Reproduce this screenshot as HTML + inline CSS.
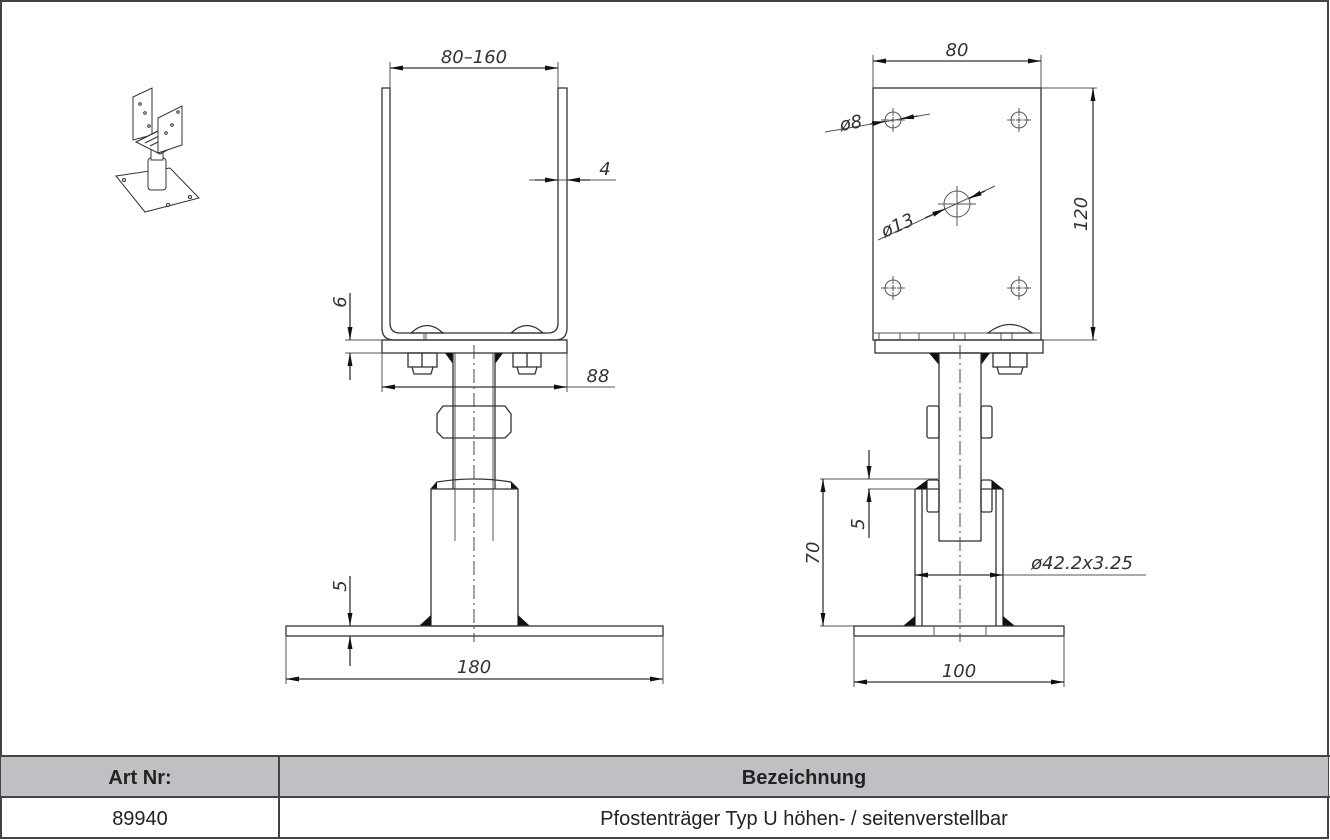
<!DOCTYPE html>
<html><head><meta charset="utf-8"><style>
html,body{margin:0;padding:0;background:#fff}
svg{display:block}
.l{stroke:#333;stroke-width:1.3;fill:none}
.t{stroke:#555;stroke-width:1;fill:none}
.c{stroke:#444;stroke-width:1;fill:none;stroke-dasharray:14 4 2 4}
.d{font-family:"DejaVu Sans","Liberation Sans",sans-serif;font-style:italic;font-size:18px;fill:#333}
.k{fill:#111}
</style></head><body>
<svg width="1330" height="840" viewBox="0 0 1330 840" xmlns="http://www.w3.org/2000/svg">
<defs>
<marker id="a" markerWidth="13" markerHeight="7" refX="13" refY="3.5" orient="auto" markerUnits="userSpaceOnUse"><path d="M0,1 L13,3.5 L0,6Z" fill="#111"/></marker>
<marker id="b" markerWidth="13" markerHeight="7" refX="0" refY="3.5" orient="auto" markerUnits="userSpaceOnUse"><path d="M13,1 L0,3.5 L13,6Z" fill="#111"/></marker>
</defs>
<rect x="1" y="1" width="1327" height="837" fill="none" stroke="#444" stroke-width="2"/>

<!-- thumbnail -->
<g stroke="#333" stroke-width="1" fill="#fff">
<polygon points="116,176 170,168 199,198 145,212"/>
<circle cx="124" cy="180" r="1.5"/><circle cx="190" cy="197" r="1.5"/><circle cx="168" cy="205" r="1.5"/>
<rect x="148" y="158" width="18" height="32" rx="3"/>
<rect x="151" y="148" width="12" height="12"/>
<polygon points="133,97 152,88 152,135 133,140"/>
<polygon points="136,142 160,130 182,142 160,154"/>
<path d="M140,140 L160,130 M145,143 L165,133 M150,146 L170,136"/>
<polygon points="158,118 182,106 182,145 158,153"/>
<circle cx="140" cy="104" r="1.3"/><circle cx="145" cy="113" r="1.3"/><circle cx="172" cy="125" r="1.3"/><circle cx="178" cy="112" r="1.3"/><circle cx="166" cy="133" r="1.3"/><circle cx="149" cy="126" r="1.3"/>
</g>

<!-- LEFT VIEW -->
<line class="t" x1="390" y1="62" x2="390" y2="88"/><line class="t" x1="558" y1="62" x2="558" y2="88"/>
<line class="l" x1="390" y1="68" x2="558" y2="68" marker-start="url(#b)" marker-end="url(#a)"/>
<text class="d" x="474" y="63" text-anchor="middle">80–160</text>
<path class="l" d="M382,88 V328 Q382,340 394,340 H555 Q567,340 567,328 V88 H558 V323 Q558,333 548,333 H400 Q390,333 390,323 V88 Z"/>
<path class="l" d="M411,333 Q427,318 443,333 Z M511,333 Q527,318 543,333 Z"/>
<line class="t" x1="424" y1="333" x2="424" y2="340"/><line class="t" x1="426" y1="333" x2="426" y2="340"/>
<line class="t" x1="529" y1="180" x2="616" y2="180"/>
<line class="l" x1="535" y1="180" x2="558" y2="180" marker-end="url(#a)"/>
<line class="l" x1="590" y1="180" x2="567" y2="180" marker-end="url(#a)"/>
<text class="d" x="605" y="175" text-anchor="middle">4</text>
<rect class="l" x="382" y="340" width="185" height="13"/>
<line class="t" x1="345" y1="340" x2="382" y2="340"/><line class="t" x1="345" y1="353" x2="382" y2="353"/>
<line class="l" x1="350" y1="293" x2="350" y2="340" marker-end="url(#a)"/>
<line class="l" x1="350" y1="380" x2="350" y2="353" marker-end="url(#a)"/>
<text class="d" transform="translate(346,302) rotate(-90)" text-anchor="middle">6</text>
<g class="l"><rect x="408" y="353" width="29" height="14"/><path d="M412,367 L414,374 H431 L433,367 M422,353 V367"/>
<rect x="513" y="353" width="28" height="14"/><path d="M517,367 L519,374 H535 L537,367 M527,353 V367"/></g>
<polygon class="k" points="445,353 453,353 453,364"/><polygon class="k" points="503,353 495,353 495,364"/>
<line class="l" x1="453" y1="353" x2="453" y2="489"/><line class="l" x1="495" y1="353" x2="495" y2="489"/>
<line class="t" x1="455" y1="353" x2="455" y2="541"/><line class="t" x1="493" y1="353" x2="493" y2="541"/>
<line class="t" x1="382" y1="353" x2="382" y2="392"/><line class="t" x1="567" y1="353" x2="567" y2="392"/>
<line class="l" x1="382" y1="387" x2="567" y2="387" marker-start="url(#b)" marker-end="url(#a)"/>
<line class="t" x1="567" y1="387" x2="615" y2="387"/>
<text class="d" x="598" y="382" text-anchor="middle">88</text>
<path class="l" fill="#fff" d="M443,406 H505 L511,414 V432 L505,438 H443 L437,432 V414 Z"/>
<line class="t" x1="455" y1="406" x2="455" y2="438"/><line class="t" x1="493" y1="406" x2="493" y2="438"/>
<path class="l" d="M431,489 L437,482 Q474,476 511,482 L518,489"/>
<polygon class="k" points="431,489 437,482 437,489"/><polygon class="k" points="518,489 511,482 511,489"/>
<rect class="l" x="431" y="489" width="87" height="137"/>
<line class="t" x1="455" y1="489" x2="455" y2="541"/><line class="t" x1="493" y1="489" x2="493" y2="541"/>
<polygon class="k" points="419,626 431,626 431,615"/><polygon class="k" points="530,626 518,626 518,615"/>
<rect class="l" x="286" y="626" width="377" height="10"/>
<line class="c" x1="474" y1="345" x2="474" y2="642"/>
<line class="l" x1="350" y1="576" x2="350" y2="626" marker-end="url(#a)"/>
<line class="l" x1="350" y1="666" x2="350" y2="636" marker-end="url(#a)"/>
<text class="d" transform="translate(346,586) rotate(-90)" text-anchor="middle">5</text>
<line class="t" x1="286" y1="636" x2="286" y2="684"/><line class="t" x1="663" y1="636" x2="663" y2="684"/>
<line class="l" x1="286" y1="679" x2="663" y2="679" marker-start="url(#b)" marker-end="url(#a)"/>
<text class="d" x="474" y="673" text-anchor="middle">180</text>

<!-- RIGHT VIEW -->
<line class="t" x1="873" y1="55" x2="873" y2="88"/><line class="t" x1="1041" y1="55" x2="1041" y2="88"/>
<line class="l" x1="873" y1="61" x2="1041" y2="61" marker-start="url(#b)" marker-end="url(#a)"/>
<text class="d" x="957" y="56" text-anchor="middle">80</text>
<rect class="l" x="873" y="88" width="168" height="252"/>
<line class="t" x1="1041" y1="88" x2="1097" y2="88"/><line class="t" x1="1041" y1="340" x2="1097" y2="340"/>
<line class="l" x1="1093" y1="88" x2="1093" y2="340" marker-start="url(#b)" marker-end="url(#a)"/>
<text class="d" transform="translate(1087,214) rotate(-90)" text-anchor="middle">120</text>
<g class="t">
<circle cx="893" cy="120" r="8"/><circle cx="1019" cy="120" r="8"/><circle cx="893" cy="288" r="8"/><circle cx="1019" cy="288" r="8"/>
<path d="M881,120h8M897,120h8M893,108v8M893,124v8 M1007,120h8M1023,120h8M1019,108v8M1019,124v8 M881,288h8M897,288h8M893,276v8M893,292v8 M1007,288h8M1023,288h8M1019,276v8M1019,292v8"/>
<path d="M890,120h6M893,117v6 M1016,120h6M1019,117v6 M890,288h6M893,285v6 M1016,288h6M1019,285v6"/>
<circle cx="957" cy="204" r="13"/><path d="M938,204h38M957,186v40"/>
</g>
<line class="t" x1="825" y1="132" x2="930" y2="114"/>
<line class="l" x1="870" y1="124" x2="885" y2="121.5" marker-end="url(#a)"/>
<line class="l" x1="918" y1="116" x2="901" y2="118.7" marker-end="url(#a)"/>
<text class="d" transform="translate(852,129) rotate(-10)" text-anchor="middle">ø8</text>
<line class="t" x1="878" y1="240" x2="995" y2="186"/>
<line class="l" x1="925" y1="218" x2="945" y2="209" marker-end="url(#a)"/>
<line class="l" x1="985" y1="191" x2="969" y2="198.5" marker-end="url(#a)"/>
<text class="d" transform="translate(900,231) rotate(-24)" text-anchor="middle">ø13</text>
<line class="t" x1="873" y1="333" x2="1041" y2="333"/>
<g class="t"><path d="M879,333v7M900,333v7M919,333v7M954,333v7M965,333v7M1001,333v7M1012,333v7"/></g>
<path class="l" d="M988,333 Q1010,316 1032,333 Z"/>
<rect class="l" x="875" y="340" width="168" height="13"/>
<polygon class="k" points="929,353 939,353 939,365"/><polygon class="k" points="990,353 981,353 981,365"/>
<rect class="l" x="939" y="353" width="42" height="188"/>
<g class="l"><rect x="993" y="353" width="34" height="14"/><path d="M997,367 L999,374 H1021 L1023,367 M1010,353 V367"/></g>
<rect class="l" x="927" y="406" width="12" height="32" rx="2"/><rect class="l" x="981" y="406" width="11" height="32" rx="2"/>
<path class="l" d="M915,489 V626 M1003,489 V626 M922,489 V626 M996,489 V626 M915,489 H939 M981,489 H1003"/>
<rect class="l" x="927" y="480" width="12" height="32" rx="2"/><rect class="l" x="981" y="480" width="11" height="32" rx="2"/>
<polygon class="k" points="915,489 927,480 927,489"/><polygon class="k" points="1003,489 992,480 992,489"/>
<polygon class="k" points="903,626 915,626 915,616"/><polygon class="k" points="1015,626 1003,626 1003,616"/>
<rect class="l" x="854" y="626" width="210" height="10"/>
<line class="t" x1="934" y1="626" x2="934" y2="636"/><line class="t" x1="986" y1="626" x2="986" y2="636"/>
<line class="c" x1="960" y1="345" x2="960" y2="642"/>
<line class="t" x1="820" y1="479" x2="938" y2="479"/><line class="t" x1="868" y1="489" x2="915" y2="489"/>
<line class="t" x1="820" y1="626" x2="854" y2="626"/>
<line class="l" x1="823" y1="479" x2="823" y2="626" marker-start="url(#b)" marker-end="url(#a)"/>
<text class="d" transform="translate(819,553) rotate(-90)" text-anchor="middle">70</text>
<line class="l" x1="869" y1="450" x2="869" y2="479" marker-end="url(#a)"/>
<line class="l" x1="869" y1="538" x2="869" y2="489" marker-end="url(#a)"/>
<text class="d" transform="translate(864,524) rotate(-90)" text-anchor="middle">5</text>
<line class="l" x1="915" y1="575" x2="1003" y2="575" marker-start="url(#b)" marker-end="url(#a)"/>
<line class="t" x1="1003" y1="575" x2="1146" y2="575"/>
<text class="d" x="1082" y="569" text-anchor="middle">ø42.2x3.25</text>
<line class="t" x1="854" y1="636" x2="854" y2="687"/><line class="t" x1="1064" y1="636" x2="1064" y2="687"/>
<line class="l" x1="854" y1="682" x2="1064" y2="682" marker-start="url(#b)" marker-end="url(#a)"/>
<text class="d" x="959" y="677" text-anchor="middle">100</text>

<!-- TABLE -->
<rect x="1" y="756" width="1327" height="41" fill="#c0c0c4"/>
<g stroke="#444" stroke-width="2" fill="none">
<line x1="0" y1="756" x2="1330" y2="756"/><line x1="0" y1="797" x2="1330" y2="797"/>
<line x1="279" y1="756" x2="279" y2="838"/>
</g>
<g font-family="Liberation Sans, sans-serif" fill="#222" text-anchor="middle">
<text x="140" y="784" font-size="20" font-weight="bold">Art Nr:</text>
<text x="804" y="784" font-size="20" font-weight="bold">Bezeichnung</text>
<text x="140" y="825" font-size="20">89940</text>
<text x="804" y="825" font-size="20">Pfostenträger Typ U höhen- / seitenverstellbar</text>
</g>
</svg>
</body></html>
